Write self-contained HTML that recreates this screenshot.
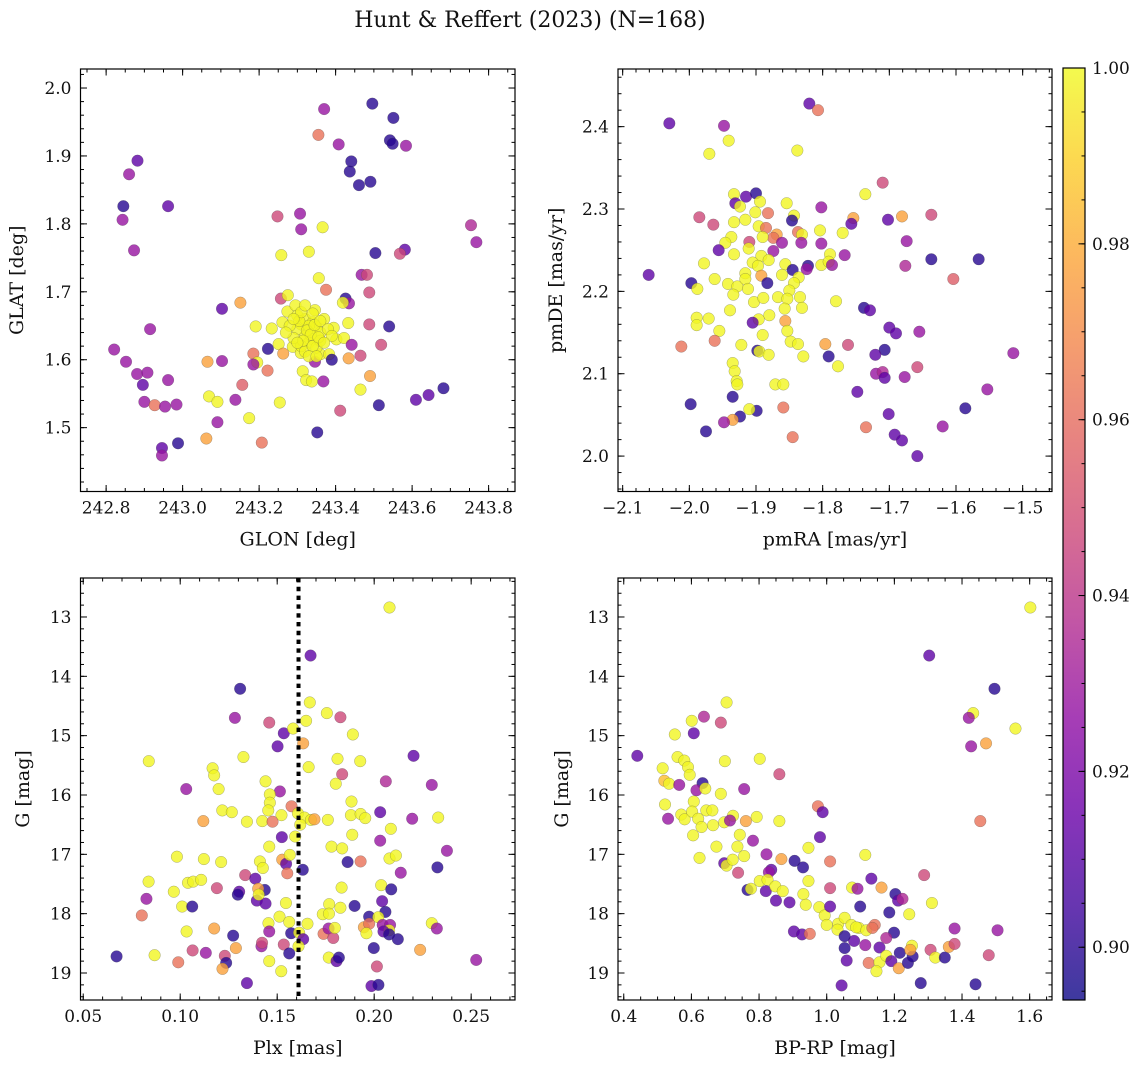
<!DOCTYPE html>
<html>
<head>
<meta charset="utf-8">
<style>
  html,body{margin:0;padding:0;background:#fff;}
  svg{display:block;font-family:"DejaVu Serif","Liberation Serif",serif;}
</style>
</head>
<body>
<svg id="fig" xmlns="http://www.w3.org/2000/svg" width="1148" height="1068" viewBox="0 0 1148 1068">
  <rect x="0" y="0" width="1148" height="1068" fill="#fff"/>
  <text x="530" y="27" font-size="22" text-anchor="middle" fill="#111">Hunt &amp; Reffert (2023) (N=168)</text>
  <defs>
    <linearGradient id="plasmaGrad" x1="0" y1="1" x2="0" y2="0">
      <stop offset="0" stop-color="#0d0887"/><stop offset="0.1" stop-color="#41049d"/>
      <stop offset="0.2" stop-color="#6a00a8"/><stop offset="0.3" stop-color="#8f0da4"/>
      <stop offset="0.4" stop-color="#b12a90"/><stop offset="0.5" stop-color="#cc4778"/>
      <stop offset="0.6" stop-color="#e16462"/><stop offset="0.7" stop-color="#f2844b"/>
      <stop offset="0.8" stop-color="#fca636"/><stop offset="0.9" stop-color="#fcce25"/>
      <stop offset="1" stop-color="#f0f921"/>
    </linearGradient>
  </defs>
  <g id="panels"></g>
  <g id="cbar"></g>
</svg>
<script>
// ---------- data: panel 1 (GLON / GLAT) ----------
const glon = [243.370,243.496,243.551,243.355,243.542,243.549,243.408,243.584,242.882,243.441,243.437,242.860,243.461,243.491,242.845,242.962,242.843,243.248,243.307,243.310,243.366,243.754,243.768,242.873,243.258,243.330,243.504,243.581,243.568,243.356,243.468,243.482,243.375,243.488,243.257,243.275,243.151,243.103,243.426,243.435,243.419,242.915,243.191,243.233,243.261,243.274,243.295,243.346,243.395,243.433,243.488,243.540,242.821,242.852,242.881,242.908,242.896,242.962,242.900,242.927,242.954,242.984,243.065,243.103,243.185,243.223,243.251,243.263,243.195,243.185,243.222,243.156,243.288,243.309,243.346,243.360,243.383,243.390,243.402,243.422,243.442,243.465,243.434,243.519,243.314,243.323,243.338,243.368,243.490,243.465,243.069,243.091,243.138,243.254,243.174,243.091,243.610,243.643,243.682,243.513,243.412,243.352,243.062,243.207,242.946,242.946,242.988,
243.31,243.32,243.34,243.35,243.33,243.32,243.34,243.30,243.36,243.33,243.31,243.35,243.29,243.37,243.30,243.34,243.36,243.32,243.28,243.38,243.33,243.325,243.335,243.345,243.315,243.34,243.36,243.305,243.30,243.355,243.27,243.39,243.33,243.35,243.31,243.32,243.37,243.29];
const glat = [1.969,1.977,1.956,1.931,1.923,1.918,1.917,1.915,1.893,1.892,1.877,1.873,1.857,1.862,1.826,1.826,1.806,1.811,1.815,1.792,1.795,1.798,1.773,1.761,1.754,1.759,1.757,1.762,1.756,1.720,1.725,1.725,1.703,1.699,1.690,1.695,1.684,1.675,1.690,1.683,1.684,1.645,1.649,1.646,1.655,1.671,1.680,1.673,1.647,1.654,1.652,1.649,1.615,1.597,1.579,1.581,1.563,1.570,1.538,1.533,1.531,1.534,1.597,1.598,1.609,1.616,1.623,1.609,1.596,1.593,1.584,1.563,1.619,1.610,1.597,1.608,1.608,1.600,1.630,1.632,1.622,1.606,1.602,1.622,1.583,1.570,1.568,1.568,1.576,1.556,1.546,1.538,1.541,1.537,1.514,1.508,1.541,1.548,1.558,1.533,1.525,1.493,1.484,1.478,1.470,1.459,1.477,
1.652,1.660,1.655,1.648,1.640,1.635,1.630,1.645,1.640,1.625,1.620,1.618,1.632,1.660,1.665,1.668,1.628,1.612,1.650,1.645,1.650,1.643,1.637,1.651,1.628,1.620,1.657,1.657,1.625,1.633,1.640,1.635,1.605,1.605,1.670,1.680,1.625,1.660];
const prob1 = [0.928,0.899,0.899,0.962,0.899,0.899,0.928,0.928,0.912,0.899,0.899,0.928,0.899,0.899,0.899,0.912,0.928,0.947,0.928,0.928,0.999,0.935,0.928,0.928,0.999,0.999,0.899,0.912,0.947,0.999,0.928,0.947,0.962,0.947,0.947,0.999,0.977,0.912,0.899,0.928,0.999,0.928,0.999,0.999,0.999,0.999,0.999,0.999,0.999,0.999,0.947,0.899,0.928,0.928,0.928,0.928,0.912,0.928,0.928,0.962,0.928,0.928,0.977,0.928,0.962,0.899,0.999,0.977,0.999,0.928,0.962,0.955,0.999,0.999,0.928,0.999,0.999,0.899,0.999,0.999,0.928,0.947,0.977,0.947,0.999,0.999,0.999,0.928,0.977,0.999,0.999,0.999,0.928,0.999,0.999,0.928,0.912,0.912,0.899,0.899,0.947,0.899,0.977,0.962,0.912,0.928,0.899,
0.999,0.999,0.999,0.999,0.999,0.999,0.999,0.999,0.999,0.999,0.999,0.999,0.999,0.999,0.999,0.999,0.999,0.999,0.999,0.999,0.999,0.999,0.999,0.999,0.999,0.999,0.999,0.999,0.999,0.999,0.999,0.999,0.999,0.999,0.999,0.999,0.999,0.999];

// ---------- data: panel 2 (pmRA / pmDE) ----------
const pmra = [-1.820,-1.807,-2.030,-1.948,-1.941,-1.970,-1.838,-1.710,-1.736,-1.933,-1.915,-1.900,-1.931,-1.924,-1.894,-1.901,-1.854,-1.882,-1.985,-1.964,-1.843,-1.846,-1.802,-1.754,-1.757,-1.702,-1.681,-1.637,-1.933,-1.916,-1.896,-1.885,-1.869,-1.874,-1.890,-1.837,-1.831,-1.804,-1.770,-1.937,-1.946,-1.910,-1.861,-1.832,-1.802,-1.674,-1.956,-1.933,-1.911,-1.874,-1.892,-1.881,-1.789,-1.767,-1.978,-1.905,-1.897,-1.856,-1.822,-1.824,-1.802,-1.791,-1.786,-1.845,-1.637,-1.566,-1.676,-2.061,-1.997,-1.962,-1.916,-1.892,-1.861,-1.836,-1.883,-1.988,-1.942,-1.928,-1.916,-1.912,-1.934,-1.843,-1.850,-1.604,-1.903,-1.889,-1.867,-1.834,-1.853,-1.780,-1.939,-1.857,-1.831,-1.738,-1.729,-1.989,-1.989,-1.971,-1.880,-1.896,-1.856,-1.905,-1.955,-1.853,-1.890,-1.700,-1.690,-1.655,-2.012,-1.962,-1.922,-1.848,-1.837,-1.796,-1.762,-1.707,-1.721,-1.898,-1.895,-1.881,-1.829,-1.791,-1.514,-1.935,-1.932,-1.777,-1.720,-1.710,-1.707,-1.677,-1.658,-1.929,-1.928,-1.871,-1.859,-1.553,-1.748,-1.998,-1.935,-1.899,-1.910,-1.859,-1.924,-1.935,-1.948,-1.975,-1.845,-1.735,-1.701,-1.620,-1.586,-1.692,-1.681,-1.658];
const pmde = [2.428,2.420,2.404,2.401,2.383,2.367,2.371,2.332,2.318,2.318,2.315,2.319,2.307,2.303,2.309,2.296,2.307,2.295,2.290,2.281,2.292,2.286,2.302,2.289,2.282,2.287,2.291,2.293,2.284,2.287,2.279,2.277,2.269,2.265,2.266,2.272,2.269,2.274,2.271,2.266,2.259,2.260,2.259,2.259,2.258,2.261,2.250,2.245,2.252,2.249,2.243,2.238,2.245,2.244,2.234,2.235,2.231,2.233,2.231,2.227,2.232,2.236,2.232,2.226,2.239,2.239,2.231,2.220,2.210,2.215,2.222,2.219,2.220,2.217,2.210,2.203,2.209,2.206,2.215,2.203,2.196,2.210,2.201,2.215,2.187,2.192,2.193,2.193,2.191,2.188,2.177,2.179,2.180,2.180,2.177,2.168,2.159,2.167,2.171,2.166,2.164,2.162,2.152,2.152,2.147,2.156,2.149,2.151,2.133,2.140,2.135,2.139,2.136,2.136,2.135,2.129,2.123,2.128,2.127,2.123,2.121,2.121,2.125,2.113,2.103,2.109,2.100,2.102,2.095,2.096,2.108,2.091,2.087,2.087,2.087,2.081,2.078,2.063,2.072,2.055,2.057,2.059,2.048,2.044,2.041,2.030,2.023,2.035,2.051,2.036,2.058,2.026,2.019,2.000];
const prob2 = [0.912,0.962,0.912,0.928,0.999,0.999,0.999,0.947,0.999,0.999,0.912,0.899,0.912,0.999,0.999,0.999,0.999,0.962,0.947,0.947,0.999,0.899,0.928,0.977,0.912,0.912,0.977,0.947,0.999,0.999,0.999,0.962,0.977,0.962,0.999,0.962,0.999,0.999,0.999,0.999,0.999,0.947,0.928,0.928,0.928,0.928,0.912,0.999,0.999,0.928,0.999,0.999,0.999,0.928,0.999,0.999,0.999,0.999,0.899,0.928,0.999,0.999,0.928,0.899,0.899,0.899,0.935,0.912,0.899,0.999,0.999,0.977,0.999,0.999,0.899,0.999,0.999,0.999,0.999,0.999,0.999,0.999,0.999,0.955,0.999,0.999,0.999,0.999,0.999,0.999,0.999,0.999,0.999,0.899,0.912,0.999,0.999,0.999,0.999,0.999,0.977,0.912,0.999,0.999,0.999,0.912,0.912,0.928,0.962,0.962,0.999,0.999,0.999,0.977,0.947,0.899,0.912,0.899,0.999,0.999,0.999,0.899,0.928,0.999,0.999,0.999,0.928,0.935,0.912,0.928,0.947,0.999,0.999,0.999,0.999,0.928,0.912,0.899,0.899,0.899,0.999,0.962,0.899,0.977,0.928,0.899,0.962,0.962,0.912,0.928,0.899,0.912,0.912,0.912];

// ---------- data: panel 3 (Plx / G) ----------
const plx = [.2079,.1672,.1309,.1282,.1459,.1534,.1582,.1668,.1649,.1756,.1826,.1890,.1502,.1634,.0838,.1326,.1662,.1811,.1928,.2203,.1167,.1175,.1835,.2060,.2297,.1440,.1802,.1031,.1198,.1514,.1462,.1462,.1574,.1454,.1217,.1266,.1883,.2031,.1522,.1607,.1641,.1674,.1692,.1119,.1344,.1423,.1476,.1761,.1880,.1930,.1954,.2196,.2330,.2086,.1619,.1593,.1524,.1887,.2031,.1459,.1780,.1835,.2375,.0983,.1122,.1211,.1411,.1426,.1526,.1546,.1565,.1552,.1632,.1863,.1930,.2079,.2112,.2326,.2137,.0837,.1040,.1067,.1108,.1335,.1387,.0967,.1189,.1304,.1297,.1395,.1440,.1436,.1402,.1405,.0826,.1010,.1062,.1545,.1832,.2036,.2088,.2041,.2058,.1899,.1768,.1826,.1735,.1767,.0802,.1512,.1562,.1455,.1656,.1974,.2021,.2044,.2082,.2297,.2323,.1033,.1175,.1273,.1459,.1572,.1613,.1634,.1739,.1765,.1789,.1797,.1947,.1974,.1960,.2077,.2048,.2077,.2122,.2237,.1998,.0672,.0868,.0990,.1064,.1132,.1230,.1237,.1218,.1287,.1419,.1422,.1534,.1562,.1610,.1459,.1521,.1766,.1806,.1818,.2014,.1344,.1986,.2022,.2526];
const g3 = [12.84,13.65,14.21,14.70,14.78,14.96,14.88,14.44,14.75,14.62,14.69,14.98,15.18,15.13,15.43,15.36,15.53,15.39,15.43,15.34,15.55,15.67,15.65,15.77,15.83,15.77,15.81,15.90,15.90,15.94,15.99,16.13,16.19,16.26,16.26,16.29,16.11,16.29,16.34,16.31,16.38,16.42,16.41,16.44,16.45,16.44,16.45,16.42,16.34,16.32,16.39,16.40,16.38,16.57,16.50,16.70,16.71,16.67,16.77,16.87,16.87,16.90,16.94,17.04,17.08,17.13,17.12,17.23,17.09,17.16,17.01,17.32,17.26,17.13,17.12,17.07,17.02,17.22,17.31,17.46,17.48,17.46,17.43,17.35,17.41,17.63,17.57,17.63,17.68,17.78,17.83,17.60,17.58,17.68,17.75,17.88,17.88,17.82,17.56,17.52,17.59,17.79,17.97,17.87,17.84,17.90,18.01,18.00,18.03,18.05,18.14,18.16,18.17,18.05,18.06,18.19,18.19,18.16,18.25,18.30,18.25,18.37,18.30,18.33,18.32,18.43,18.34,18.25,18.41,18.24,18.23,18.17,18.33,18.28,18.30,18.35,18.43,18.61,18.58,18.72,18.70,18.82,18.62,18.66,18.71,18.83,18.93,18.58,18.55,18.49,18.52,18.67,18.55,18.80,18.97,18.74,18.80,18.74,18.89,19.17,19.22,19.20,18.78];
const prob3 = [0.999,0.912,0.899,0.928,0.947,0.912,0.999,0.999,0.999,0.999,0.947,0.999,0.912,0.977,0.999,0.999,0.999,0.999,0.999,0.912,0.999,0.999,0.947,0.935,0.928,0.999,0.999,0.928,0.999,0.928,0.999,0.999,0.962,0.999,0.999,0.999,0.999,0.912,0.999,0.999,0.999,0.999,0.977,0.977,0.999,0.999,0.962,0.999,0.999,0.999,0.999,0.928,0.999,0.999,0.999,0.999,0.912,0.999,0.928,0.999,0.999,0.999,0.928,0.999,0.999,0.999,0.999,0.999,0.977,0.912,0.999,0.962,0.899,0.899,0.962,0.999,0.999,0.899,0.928,0.999,0.999,0.999,0.999,0.947,0.912,0.999,0.947,0.912,0.899,0.912,0.912,0.899,0.977,0.999,0.928,0.999,0.899,0.999,0.999,0.999,0.899,0.912,0.899,0.899,0.999,0.999,0.999,0.999,0.962,0.999,0.999,0.999,0.999,0.899,0.999,0.928,0.928,0.999,0.928,0.999,0.977,0.899,0.928,0.899,0.999,0.912,0.962,0.928,0.947,0.999,0.977,0.962,0.999,0.999,0.912,0.899,0.899,0.977,0.899,0.899,0.999,0.962,0.947,0.928,0.947,0.899,0.977,0.977,0.928,0.947,0.947,0.899,0.999,0.999,0.999,0.999,0.912,0.899,0.947,0.912,0.912,0.899,0.928];

// ---------- data: panel 4 (BP-RP / G) ----------
const bprp = [1.602,1.303,1.496,1.433,1.420,1.558,1.471,1.427,1.454,0.440,0.704,0.601,0.637,0.687,0.607,0.551,0.559,0.579,0.590,0.595,0.515,0.520,0.534,0.564,0.633,0.615,0.641,0.699,0.802,0.860,0.756,0.687,0.522,0.607,0.531,0.570,0.580,0.602,0.620,0.644,0.662,0.630,0.664,0.697,0.723,0.714,0.761,0.793,0.860,0.605,0.743,0.674,0.736,0.756,0.624,0.697,0.704,0.722,0.782,0.822,0.866,0.946,0.974,0.988,0.980,1.010,1.114,0.905,0.930,0.738,0.836,0.829,0.766,0.776,0.802,0.825,0.820,0.848,0.870,0.850,0.890,0.946,0.931,0.938,0.978,0.994,1.010,1.000,1.034,1.053,1.073,1.095,1.087,1.032,1.117,1.075,1.091,1.099,1.132,1.162,1.010,1.203,1.211,1.224,1.185,1.244,1.311,1.288,1.142,1.135,1.199,1.176,1.156,1.114,1.081,1.053,1.053,1.059,0.903,0.927,0.950,1.124,1.156,1.176,1.147,1.191,1.213,1.216,1.240,1.254,1.252,1.247,1.307,1.321,1.349,1.361,1.378,1.378,1.479,1.505,1.278,1.440,1.044];
const g4 = [12.84,13.65,14.21,14.62,14.70,14.88,15.13,15.18,16.44,15.34,14.44,14.75,14.68,14.78,14.96,14.98,15.36,15.42,15.53,15.66,15.55,15.76,15.81,15.83,15.80,15.92,15.89,15.43,15.39,15.65,15.90,15.98,16.16,16.11,16.40,16.33,16.41,16.28,16.40,16.26,16.26,16.54,16.51,16.46,16.35,16.43,16.44,16.37,16.44,16.68,16.67,16.87,16.87,17.03,17.06,17.15,17.19,17.09,16.77,17.00,17.08,16.89,16.19,16.29,16.71,17.12,17.01,17.11,17.22,17.31,17.26,17.30,17.60,17.58,17.45,17.43,17.62,17.54,17.62,17.78,17.81,17.45,17.67,17.85,17.89,18.03,17.88,18.19,18.17,18.07,18.19,18.24,18.23,18.27,18.28,17.56,17.58,17.88,17.41,17.56,17.57,17.67,17.78,17.75,17.98,18.01,17.82,17.35,18.19,18.24,18.32,18.41,18.57,18.53,18.46,18.38,18.58,18.79,18.30,18.35,18.34,18.83,18.82,18.71,18.97,18.80,18.92,18.66,18.83,18.72,18.54,18.61,18.61,18.74,18.74,18.56,18.51,18.25,18.70,18.28,19.17,19.19,19.21];
const prob4 = [0.999,0.912,0.899,0.999,0.928,0.999,0.977,0.928,0.962,0.912,0.999,0.999,0.935,0.947,0.912,0.999,0.999,0.999,0.999,0.999,0.999,0.985,0.999,0.928,0.899,0.928,0.999,0.999,0.999,0.947,0.928,0.999,0.999,0.999,0.928,0.999,0.999,0.999,0.999,0.999,0.999,0.999,0.999,0.999,0.999,0.928,0.977,0.999,0.999,0.999,0.999,0.999,0.999,0.999,0.999,0.912,0.999,0.999,0.928,0.928,0.977,0.999,0.962,0.912,0.912,0.962,0.999,0.899,0.899,0.947,0.912,0.928,0.899,0.999,0.999,0.999,0.912,0.999,0.999,0.912,0.912,0.999,0.999,0.999,0.999,0.999,0.912,0.999,0.999,0.999,0.999,0.999,0.999,0.999,0.999,0.999,0.928,0.899,0.912,0.977,0.947,0.899,0.912,0.935,0.899,0.999,0.999,0.947,0.962,0.962,0.899,0.935,0.912,0.928,0.912,0.899,0.899,0.912,0.912,0.912,0.962,0.962,0.999,0.999,0.999,0.912,0.977,0.899,0.899,0.899,0.999,0.977,0.947,0.999,0.899,0.977,0.947,0.928,0.947,0.928,0.899,0.899,0.912];

// ---------- tick labels ----------
const glonTicks = [242.8,243.0,243.2,243.4,243.6,243.8];
const glatTicks = [1.5,1.6,1.7,1.8,1.9,2.0];
const pmraTicks = [-2.1,-2.0,-1.9,-1.8,-1.7,-1.6,-1.5];
const pmdeTicks = [2.0,2.1,2.2,2.3,2.4];
const plxTicks = [0.05,0.10,0.15,0.20,0.25];
const gTicks = [13,14,15,16,17,18,19];
const bprpTicks = [0.4,0.6,0.8,1.0,1.2,1.4,1.6];
const cbarTicks = [0.90,0.92,0.94,0.96,0.98,1.00];
const plxCut = [0.161];
const cbarRange = [0.894,1.0];

const NS = 'http://www.w3.org/2000/svg';
function mk(tag, attrs, parent){
  const e = document.createElementNS(NS, tag);
  for (const k in attrs) e.setAttribute(k, attrs[k]);
  if (parent) parent.appendChild(e);
  return e;
}
const stops = [[13,8,135],[65,4,157],[106,0,168],[143,13,164],[177,42,144],[204,71,120],[225,100,98],[242,132,75],[252,166,54],[252,206,37],[240,249,33]];
function plasma(v){
  let t = (v - cbarRange[0]) / (cbarRange[1] - cbarRange[0]);
  t = Math.max(0, Math.min(1, t));
  const f = t * 10, i = Math.min(9, Math.floor(f)), r = f - i;
  const a = stops[i], b = stops[i+1];
  return 'rgb(' + [0,1,2].map(k => Math.round(a[k] + (b[k]-a[k]) * r)).join(',') + ')';
}
function fmt(v, d){ const s = Math.abs(v).toFixed(d); return (v < 0 ? '\u2212' : '') + s; }

const root = document.getElementById('panels');

function panel(cfg){
  const g = mk('g', {}, root);
  
  
  const {x0,x1,y0,y1} = cfg;
  const sx = v => x0 + (v - cfg.xd[0]) / (cfg.xd[1] - cfg.xd[0]) * (x1 - x0);
  const sy = cfg.yInv
    ? (v => y0 + (v - cfg.yd[0]) / (cfg.yd[1] - cfg.yd[0]) * (y1 - y0))
    : (v => y1 - (v - cfg.yd[0]) / (cfg.yd[1] - cfg.yd[0]) * (y1 - y0));
  const pg = mk('g', {}, g);
  
  
  for (let i = 0; i < cfg.xs.length; i++){
    const c = mk('circle', {cx: sx(cfg.xs[i]).toFixed(2), cy: sy(cfg.ys[i]).toFixed(2), r: 5.8,
      fill: plasma(cfg.cs[i]), 'fill-opacity': 0.8, stroke: 'rgba(70,70,70,0.45)', 'stroke-width': 0.5}, pg);
    
    
  }
  if (cfg.vline){
    cfg.vline.forEach(v => {
      const l = mk('line', {x1: sx(v), x2: sx(v), y1: y0, y2: y1, stroke: '#000', 'stroke-width': 4, 'stroke-dasharray': '4.4 4.4'}, g);
      
      
    });
  }
  const fr = mk('rect', {x: x0, y: y0, width: x1 - x0, height: y1 - y0, fill: 'none', stroke: '#000', 'stroke-width': 1.2}, g);
  
  
  const tg = mk('g', {stroke: '#000', 'stroke-width': 1}, g);
  const MJ = 6.5, MN = 3.5;
  const minorX = [], minorY = [];
  for (let v = Math.ceil(cfg.xd[0] / cfg.xm - 1e-6) * cfg.xm; v <= cfg.xd[1] + 1e-9; v += cfg.xm) minorX.push(v);
  for (let v = Math.ceil(cfg.yd[0] / cfg.ym - 1e-6) * cfg.ym; v <= cfg.yd[1] + 1e-9; v += cfg.ym) minorY.push(v);
  minorX.forEach(v => { const X = sx(v); mk('line',{x1:X,x2:X,y1:y1,y2:y1-MN},tg); mk('line',{x1:X,x2:X,y1:y0,y2:y0+MN},tg); });
  minorY.forEach(v => { const Y = sy(v); mk('line',{x1:x0,x2:x0+MN,y1:Y,y2:Y},tg); mk('line',{x1:x1,x2:x1-MN,y1:Y,y2:Y},tg); });
  cfg.xt.forEach(v => {
    const X = sx(v);
    mk('line',{x1:X,x2:X,y1:y1,y2:y1-MJ},tg); mk('line',{x1:X,x2:X,y1:y0,y2:y0+MJ},tg);
    const t = mk('text',{x:X, y:y1+22, 'font-size':17, 'text-anchor':'middle', fill:'#111'}, g);
    t.textContent = fmt(v, cfg.xdec);
    
    
  });
  cfg.yt.forEach(v => {
    const Y = sy(v);
    mk('line',{x1:x0,x2:x0+MJ,y1:Y,y2:Y},tg); mk('line',{x1:x1,x2:x1-MJ,y1:Y,y2:Y},tg);
    const t = mk('text',{x:x0-9, y:Y+6, 'font-size':17, 'text-anchor':'end', fill:'#111'}, g);
    t.textContent = fmt(v, cfg.ydec);
    
    
  });
  const xl = mk('text',{x:(x0+x1)/2, y:y1+54, 'font-size':19, 'text-anchor':'middle', fill:'#111'}, g);
  xl.textContent = cfg.xlabel;
  
  
  const yx = cfg.ylabX, yc = (y0+y1)/2;
  const yl = mk('text',{x:yx, y:yc, 'font-size':19, 'text-anchor':'middle', fill:'#111', transform:'rotate(-90 '+yx+' '+yc+')'}, g);
  yl.textContent = cfg.ylabel;
  
  
}

panel({name:'panel-glon-glat', x0:80.5,x1:515,y0:69,y1:491.5, xd:[242.733,243.869], yd:[1.406,2.028],
  xs:glon, ys:glat, cs:prob1, xt:glonTicks, yt:glatTicks, xm:0.05, ym:0.02, xdec:1, ydec:1,
  xlabel:'GLON [deg]', ylabel:'GLAT [deg]', ylabX:23});
panel({name:'panel-pmra-pmde', x0:618,x1:1052,y0:69,y1:491.5, xd:[-2.107,-1.456], yd:[1.957,2.470],
  xs:pmra, ys:pmde, cs:prob2, xt:pmraTicks, yt:pmdeTicks, xm:0.02, ym:0.02, xdec:1, ydec:1,
  xlabel:'pmRA [mas/yr]', ylabel:'pmDE [mas/yr]', ylabX:562});
panel({name:'panel-plx-g', x0:80.5,x1:515,y0:578,y1:1000, xd:[0.0486,0.2726], yd:[12.343,19.455], yInv:true,
  xs:plx, ys:g3, cs:prob3, xt:plxTicks, yt:gTicks, xm:0.01, ym:0.2, xdec:2, ydec:0,
  xlabel:'Plx [mas]', ylabel:'G [mag]', ylabX:29, vline:plxCut});
panel({name:'panel-bprp-g', x0:618,x1:1052,y0:578,y1:1000, xd:[0.383,1.666], yd:[12.343,19.455], yInv:true,
  xs:bprp, ys:g4, cs:prob4, xt:bprpTicks, yt:gTicks, xm:0.05, ym:0.2, xdec:1, ydec:0,
  xlabel:'BP-RP [mag]', ylabel:'G [mag]', ylabX:568});

(function(){
  const cb = document.getElementById('cbar');
  
  
  const x0 = 1063, x1 = 1085, y0 = 68, y1 = 1000;
  const sy = v => y1 - (v - cbarRange[0]) / (cbarRange[1] - cbarRange[0]) * (y1 - y0);
  mk('rect',{x:x0,y:y0,width:x1-x0,height:y1-y0,fill:'url(#plasmaGrad)','fill-opacity':0.8},cb);
  mk('rect',{x:x0,y:y0,width:x1-x0,height:y1-y0,fill:'none',stroke:'#000','stroke-width':1.2},cb);
  for (let v = 0.895; v <= 1.0001; v += 0.005){
    const Y = sy(v);
    mk('line',{x1:x1,x2:x1-3.5,y1:Y,y2:Y,stroke:'#000','stroke-width':1},cb);
  }
  cbarTicks.forEach(v => {
    const Y = sy(v);
    mk('line',{x1:x1,x2:x1-6.5,y1:Y,y2:Y,stroke:'#000','stroke-width':1},cb);
    const t = mk('text',{x:x1+7,y:Y+6,'font-size':17,fill:'#111'},cb);
    t.textContent = v.toFixed(2);
    
    
  });
})();
</script>
</body>
</html>
